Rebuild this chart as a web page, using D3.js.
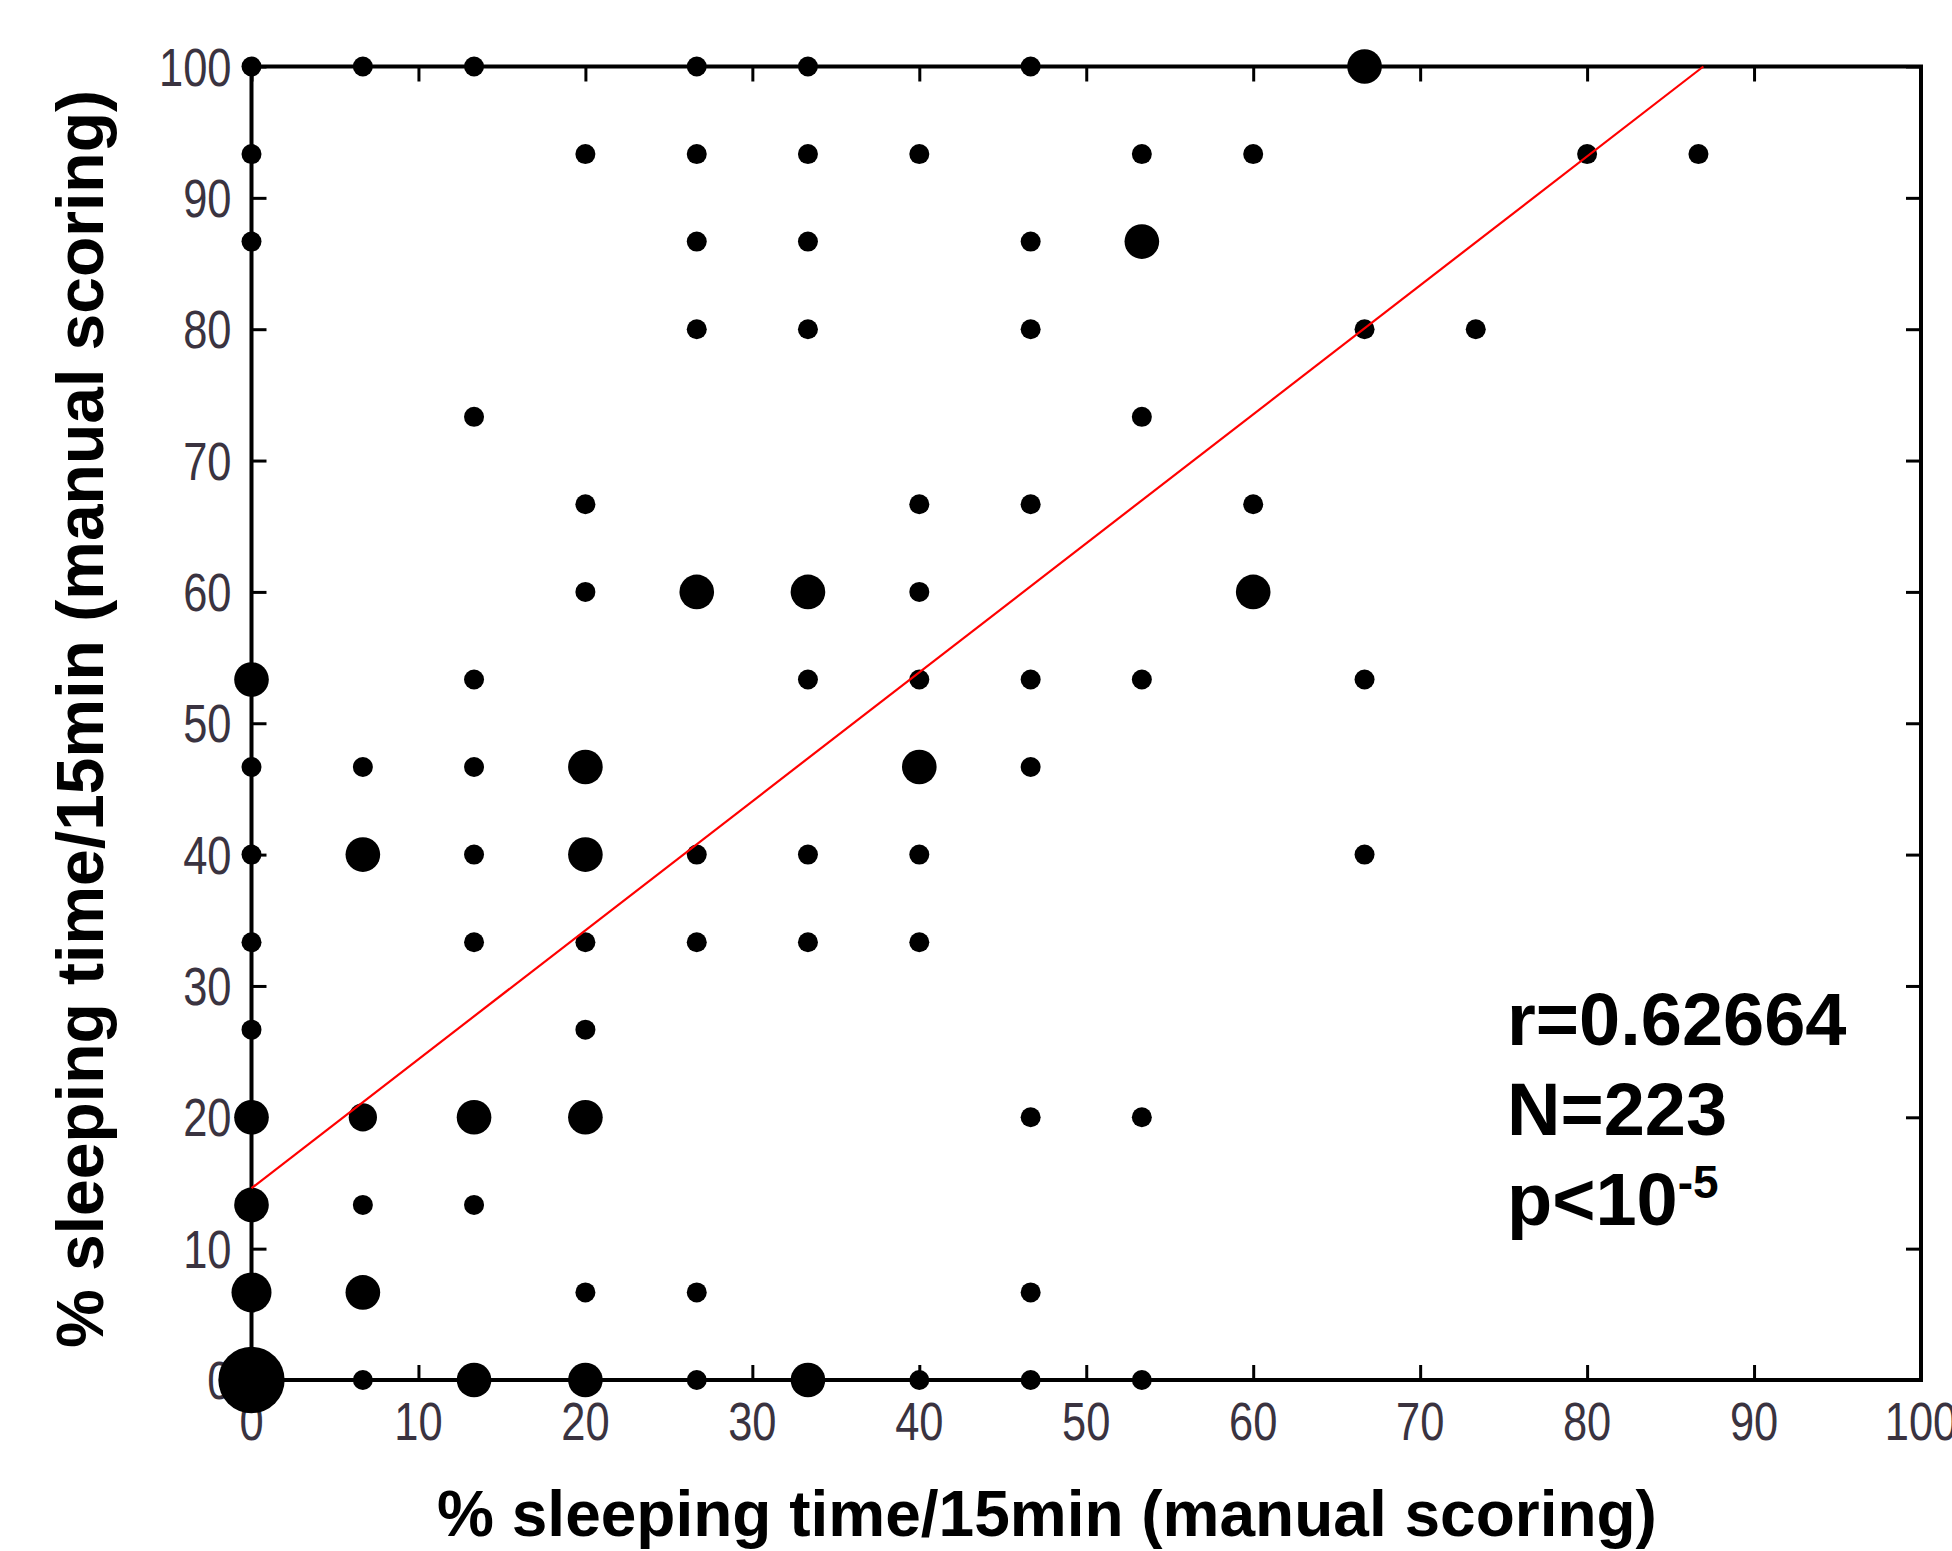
<!DOCTYPE html>
<html>
<head>
  <meta charset="utf-8">
  <title>% sleeping time/15min - bubble scatter</title>
  <script src="https://d3js.org/d3.v7.min.js"></script>
  <style>
    body { margin: 0; background: #fff; }
  </style>
</head>
<body>
  <div id="chart"></div>

  <script>
    // one row of bubbles per y level (percent of a 15 min bin)
    var rowY = [100, 93.33, 86.67, 80, 73.33, 66.67, 60, 53.33, 46.67, 40, 33.33, 26.67, 20, 13.33, 6.67, 0];
    var rowX = [
      [0, 6.67, 13.33, 26.67, 33.33, 46.67, 66.67],
      [0, 20, 26.67, 33.33, 40, 53.33, 60, 80, 86.67],
      [0, 26.67, 33.33, 46.67, 53.33],
      [26.67, 33.33, 46.67, 66.67, 73.33],
      [13.33, 53.33],
      [20, 40, 46.67, 60],
      [20, 26.67, 33.33, 40, 60],
      [0, 13.33, 33.33, 40, 46.67, 53.33, 66.67],
      [0, 6.67, 13.33, 20, 40, 46.67],
      [0, 6.67, 13.33, 20, 26.67, 33.33, 40, 66.67],
      [0, 13.33, 20, 26.67, 33.33, 40],
      [0, 20],
      [0, 6.67, 13.33, 20, 46.67, 53.33],
      [0, 6.67, 13.33],
      [0, 6.67, 20, 26.67, 46.67],
      [0, 6.67, 13.33, 20, 26.67, 33.33, 40, 46.67, 53.33]
    ];
    // number of epochs at each point (drives bubble area)
    var rowN = [
      [1, 1, 1, 1, 1, 1, 3],
      [1, 1, 1, 1, 1, 1, 1, 1, 1],
      [1, 1, 1, 1, 3],
      [1, 1, 1, 1, 1],
      [1, 1],
      [1, 1, 1, 1],
      [1, 3, 3, 1, 3],
      [3, 1, 1, 1, 1, 1, 1],
      [1, 1, 1, 3, 3, 1],
      [1, 3, 1, 3, 1, 1, 1, 1],
      [1, 1, 1, 1, 1, 1],
      [1, 1],
      [3, 2, 3, 3, 1, 1],
      [3, 1, 1],
      [4, 3, 1, 1, 1],
      [11, 1, 3, 3, 1, 3, 1, 1, 1]
    ];

    var tickValues = [0, 10, 20, 30, 40, 50, 60, 70, 80, 90, 100];
    var fitIntercept = 14.6;
    var fitSlope = 0.982;
    var statLines = ["r=0.62664", "N=223"];
    var pText = "p<10";
    var pExp = "-5";
    var axisTitle = "% sleeping time/15min (manual scoring)";

    var data = [];
    rowY.forEach(function(yv, i) {
      rowX[i].forEach(function(xv, j) {
        data.push({x: xv, y: yv, n: rowN[i][j]});
      });
    });

    var W = 1952, H = 1551;
    var margin = {top: 66.5, right: 31, bottom: 171, left: 251.5};
    var width = W - margin.left - margin.right;
    var height = H - margin.top - margin.bottom;

    var x = d3.scaleLinear().domain([0, 100]).range([0, width]);
    var y = d3.scaleLinear().domain([0, 100]).range([height, 0]);
    var r = d3.scaleSqrt().domain([0, 1]).range([0, 10]);

    var svg = d3.select("#chart")
      .append("svg")
      .attr("width", W)
      .attr("height", H)
      .style("display", "block");

    svg.append("rect").attr("width", W).attr("height", H).attr("fill", "#fff");

    var g = svg.append("g")
      .attr("transform", "translate(" + margin.left + "," + margin.top + ")");

    var tickFont = "'Liberation Sans', Arial, sans-serif";
    var squeeze = 0.82; // matlab tick font is narrow

    // axes: inward ticks on all four sides, labels drawn separately
    function styleAxis(sel) {
      sel.select(".domain").remove();
      sel.selectAll(".tick line").attr("stroke", "#000").attr("stroke-width", 3);
      sel.selectAll(".tick text").remove();
    }
    var inner = 15;
    g.append("g").attr("transform", "translate(0," + height + ")")
      .call(d3.axisBottom(x).tickValues(tickValues).tickSizeInner(-inner).tickSizeOuter(0)).call(styleAxis);
    g.append("g")
      .call(d3.axisTop(x).tickValues(tickValues).tickSizeInner(-inner).tickSizeOuter(0)).call(styleAxis);
    g.append("g")
      .call(d3.axisLeft(y).tickValues(tickValues).tickSizeInner(-inner).tickSizeOuter(0)).call(styleAxis);
    g.append("g").attr("transform", "translate(" + width + ",0)")
      .call(d3.axisRight(y).tickValues(tickValues).tickSizeInner(-inner).tickSizeOuter(0)).call(styleAxis);

    g.append("rect")
      .attr("width", width).attr("height", height)
      .attr("fill", "none").attr("stroke", "#000").attr("stroke-width", 4);

    // tick labels
    g.append("g").selectAll("text")
      .data(tickValues).join("text")
      .attr("transform", function(d) {
        return "translate(" + x(d) + "," + (height + 60) + ") scale(" + squeeze + ",1)";
      })
      .attr("text-anchor", "middle")
      .attr("font-family", tickFont)
      .attr("font-size", 53)
      .attr("fill", "#3a3340")
      .text(function(d) { return d; });

    g.append("g").selectAll("text")
      .data(tickValues).join("text")
      .attr("transform", function(d) {
        return "translate(-20," + y(d) + ") scale(" + squeeze + ",1)";
      })
      .attr("dy", "0.36em")
      .attr("text-anchor", "end")
      .attr("font-family", tickFont)
      .attr("font-size", 53)
      .attr("fill", "#3a3340")
      .text(function(d) { return d; });

    // bubbles
    g.append("g").selectAll("circle")
      .data(data).join("circle")
      .attr("cx", function(d) { return x(d.x); })
      .attr("cy", function(d) { return y(d.y); })
      .attr("r", function(d) { return r(d.n); })
      .attr("fill", "#000");

    // regression line
    var xEnd = (100 - fitIntercept) / fitSlope;
    g.append("path")
      .datum([0, xEnd])
      .attr("d", d3.line()
        .x(function(d) { return x(d); })
        .y(function(d) { return y(fitIntercept + fitSlope * d); }))
      .attr("fill", "none")
      .attr("stroke", "#ff0000")
      .attr("stroke-width", 2.2);

    // axis titles
    svg.append("text")
      .attr("x", 1047)
      .attr("y", 1536)
      .attr("text-anchor", "middle")
      .attr("font-family", "'Liberation Sans', Arial, sans-serif")
      .attr("font-weight", "bold")
      .attr("font-size", 64)
      .text(axisTitle);

    svg.append("text")
      .attr("transform", "translate(103,719) rotate(-90)")
      .attr("text-anchor", "middle")
      .attr("font-family", "'Liberation Sans', Arial, sans-serif")
      .attr("font-weight", "bold")
      .attr("font-size", 66)
      .text(axisTitle);

    // stats block
    var stats = svg.append("g")
      .attr("font-family", "'Liberation Sans', Arial, sans-serif")
      .attr("font-weight", "bold")
      .attr("font-size", 74);
    statLines.forEach(function(s, i) {
      stats.append("text").attr("x", 1507).attr("y", 1045 + i * 90).text(s);
    });
    var pt = stats.append("text").attr("x", 1507).attr("y", 1225);
    pt.append("tspan").text(pText);
    pt.append("tspan").attr("dy", -27).attr("font-size", 46).text(pExp);
  </script>
</body>
</html>
